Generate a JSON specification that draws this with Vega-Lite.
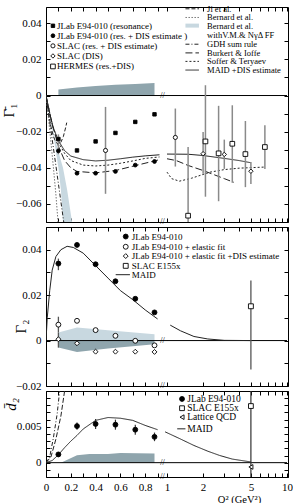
{
"$schema":"https://vega.github.io/schema/vega-lite/v6.json",
"padding":{"left":0,"top":4,"right":0,"bottom":0},
"spacing":5,
"bounds":"flush",
"resolve":{"scale":{"shape":"independent","fill":"independent","size":"independent","strokeDash":"independent","stroke":"independent"}},
"config":{"view":{"stroke":"black","strokeWidth":1},"font":"Liberation Serif",
"axis":{"labelFont":"Liberation Serif","titleFont":"Liberation Serif","labelFontSize":11,"labelColor":"black","tickColor":"black","domain":false,"grid":false,"titleFontWeight":"normal","titleColor":"black","labelFlush":false,"labelOverlap":false,"tickSize":-4,"minExtent":0},
"text":{"font":"Liberation Serif"}},
"datasets":{
"p1sys":[{"q2":0.1,"v":0,"v2":0.0033},{"q2":0.25,"v":0,"v2":0.0045},{"q2":0.4,"v":0,"v2":0.0053},{"q2":0.56,"v":0,"v2":0.0059},{"q2":0.72,"v":0,"v2":0.0064},{"q2":0.875,"v":0,"v2":0.007}],
"p1bern":[{"q2":0,"v":0,"v2":0},{"q2":0.03,"v":-0.011,"v2":-0.012},{"q2":0.06,"v":-0.020,"v2":-0.022},{"q2":0.08,"v":-0.026,"v2":-0.031},{"q2":0.1,"v":-0.031,"v2":-0.040},{"q2":0.12,"v":-0.036,"v2":-0.052},{"q2":0.137,"v":-0.040,"v2":-0.070},{"q2":0.17,"v":-0.052,"v2":-0.070},{"q2":0.21,"v":-0.070,"v2":-0.070}],
"p1curves":[
{"series":"ji","seg":"a","q2":0,"v":0},{"series":"ji","seg":"a","q2":0.02,"v":-0.0097},{"series":"ji","seg":"a","q2":0.04,"v":-0.0173},{"series":"ji","seg":"a","q2":0.06,"v":-0.0227},{"series":"ji","seg":"a","q2":0.08,"v":-0.0259},{"series":"ji","seg":"a","q2":0.1,"v":-0.027},{"series":"ji","seg":"a","q2":0.12,"v":-0.0259},{"series":"ji","seg":"a","q2":0.14,"v":-0.0227},{"series":"ji","seg":"a","q2":0.16,"v":-0.0173},{"series":"ji","seg":"a","q2":0.167,"v":-0.015},
{"series":"bernard","seg":"a","q2":0,"v":0},{"series":"bernard","seg":"a","q2":0.02,"v":-0.0125},{"series":"bernard","seg":"a","q2":0.04,"v":-0.026},{"series":"bernard","seg":"a","q2":0.06,"v":-0.040},{"series":"bernard","seg":"a","q2":0.08,"v":-0.055},{"series":"bernard","seg":"a","q2":0.097,"v":-0.07},
{"series":"gdh","seg":"a","q2":0,"v":0},{"series":"gdh","seg":"a","q2":0.07,"v":-0.034},{"series":"gdh","seg":"a","q2":0.143,"v":-0.07},
{"series":"maid","seg":"a","q2":0,"v":0},{"series":"maid","seg":"a","q2":0.03,"v":-0.010},{"series":"maid","seg":"a","q2":0.06,"v":-0.018},{"series":"maid","seg":"a","q2":0.1,"v":-0.025},{"series":"maid","seg":"a","q2":0.15,"v":-0.0305},{"series":"maid","seg":"a","q2":0.2,"v":-0.0335},{"series":"maid","seg":"a","q2":0.3,"v":-0.0355},{"series":"maid","seg":"a","q2":0.4,"v":-0.0362},{"series":"maid","seg":"a","q2":0.5,"v":-0.0358},{"series":"maid","seg":"a","q2":0.6,"v":-0.035},{"series":"maid","seg":"a","q2":0.7,"v":-0.0341},{"series":"maid","seg":"a","q2":0.8,"v":-0.0334},{"series":"maid","seg":"a","q2":0.92,"v":-0.0328},
{"series":"maid","seg":"b","q2":1.0,"v":-0.0324},{"series":"maid","seg":"b","q2":1.5,"v":-0.0325},{"series":"maid","seg":"b","q2":2,"v":-0.0332},{"series":"maid","seg":"b","q2":3,"v":-0.0348},{"series":"maid","seg":"b","q2":4,"v":-0.036},{"series":"maid","seg":"b","q2":5,"v":-0.0372},
{"series":"burkert","seg":"a","q2":0,"v":0},{"series":"burkert","seg":"a","q2":0.05,"v":-0.016},{"series":"burkert","seg":"a","q2":0.1,"v":-0.028},{"series":"burkert","seg":"a","q2":0.15,"v":-0.036},{"series":"burkert","seg":"a","q2":0.2,"v":-0.040},{"series":"burkert","seg":"a","q2":0.25,"v":-0.042},{"series":"burkert","seg":"a","q2":0.4,"v":-0.0428},{"series":"burkert","seg":"a","q2":0.56,"v":-0.0415},{"series":"burkert","seg":"a","q2":0.72,"v":-0.0388},{"series":"burkert","seg":"a","q2":0.92,"v":-0.0355},
{"series":"burkert","seg":"b","q2":1.0,"v":-0.035},{"series":"burkert","seg":"b","q2":1.2,"v":-0.036},{"series":"burkert","seg":"b","q2":1.5,"v":-0.0387},{"series":"burkert","seg":"b","q2":2,"v":-0.0415},{"series":"burkert","seg":"b","q2":3,"v":-0.046},{"series":"burkert","seg":"b","q2":3.6,"v":-0.048},
{"series":"soffer","seg":"a","q2":0,"v":0},{"series":"soffer","seg":"a","q2":0.05,"v":-0.016},{"series":"soffer","seg":"a","q2":0.1,"v":-0.026},{"series":"soffer","seg":"a","q2":0.15,"v":-0.032},{"series":"soffer","seg":"a","q2":0.2,"v":-0.036},{"series":"soffer","seg":"a","q2":0.3,"v":-0.0385},{"series":"soffer","seg":"a","q2":0.4,"v":-0.039},{"series":"soffer","seg":"a","q2":0.5,"v":-0.0385},{"series":"soffer","seg":"a","q2":0.6,"v":-0.0375},{"series":"soffer","seg":"a","q2":0.7,"v":-0.0362},{"series":"soffer","seg":"a","q2":0.8,"v":-0.0348},{"series":"soffer","seg":"a","q2":0.92,"v":-0.034},
{"series":"soffer","seg":"b","q2":1.0,"v":-0.0424},{"series":"soffer","seg":"b","q2":1.1,"v":-0.046},{"series":"soffer","seg":"b","q2":1.27,"v":-0.0474},{"series":"soffer","seg":"b","q2":1.6,"v":-0.0458},{"series":"soffer","seg":"b","q2":2.3,"v":-0.0424},{"series":"soffer","seg":"b","q2":3,"v":-0.041},{"series":"soffer","seg":"b","q2":4,"v":-0.0402},{"series":"soffer","seg":"b","q2":6.5,"v":-0.0396}],
"p1pts":[
{"series":"res","q2":0.1,"v":-0.0241},{"series":"res","q2":0.25,"v":-0.0304},{"series":"res","q2":0.4,"v":-0.0254},{"series":"res","q2":0.56,"v":-0.0207},{"series":"res","q2":0.72,"v":-0.0146},{"series":"res","q2":0.875,"v":-0.0104},
{"series":"resdis","q2":0.1,"v":-0.0306,"lo":-0.0325,"hi":-0.0215},{"series":"resdis","q2":0.25,"v":-0.043},{"series":"resdis","q2":0.4,"v":-0.043},{"series":"resdis","q2":0.56,"v":-0.042},{"series":"resdis","q2":0.72,"v":-0.0385},{"series":"resdis","q2":0.875,"v":-0.0365},
{"series":"slac","q2":0.48,"v":-0.0304,"lo":-0.0544,"hi":-0.0063},{"series":"slac","q2":1.18,"v":-0.0232,"lo":-0.0393,"hi":-0.0072},
{"series":"slacdis","q2":2.0,"v":-0.0322,"lo":-0.0433,"hi":-0.0202},{"series":"slacdis","q2":3.0,"v":-0.0326,"lo":-0.0406,"hi":-0.0244},{"series":"slacdis","q2":5.0,"v":-0.0419,"lo":-0.0489,"hi":-0.0368},
{"series":"hermes","q2":1.5,"v":-0.0665,"lo":-0.07,"hi":-0.0285},{"series":"hermes","q2":2.1,"v":-0.0254,"lo":-0.056,"hi":0.0057},{"series":"hermes","q2":2.7,"v":-0.032,"lo":-0.0585,"hi":-0.0057},{"series":"hermes","q2":3.5,"v":-0.0267,"lo":-0.0483,"hi":-0.0054},{"series":"hermes","q2":4.5,"v":-0.0324,"lo":-0.0507,"hi":-0.0141},{"series":"hermes","q2":6.56,"v":-0.0285,"lo":-0.0406,"hi":-0.0165}],
"p1legsym":[{"series":"res","q2":0.056,"v":0.0386},{"series":"resdis","q2":0.056,"v":0.0331},{"series":"slac","q2":0.056,"v":0.0275},{"series":"slacdis","q2":0.056,"v":0.0219},{"series":"hermes","q2":0.056,"v":0.0161}],
"p1leglines":[{"series":"ji","q2":1.43,"q2e":1.85,"v":0.0480},{"series":"bernard","q2":1.43,"q2e":1.85,"v":0.0432},{"series":"gdh","q2":1.43,"q2e":1.85,"v":0.0284},{"series":"burkert","q2":1.43,"q2e":1.85,"v":0.0236},{"series":"soffer","q2":1.43,"q2e":1.85,"v":0.0189},{"series":"maid","q2":1.43,"q2e":1.85,"v":0.0141}],
"p1legtxt":[{"q2":0.089,"v":0.0386,"label":"JLab E94-010 (resonance)"},{"q2":0.089,"v":0.0331,"label":"JLab E94-010 (res. + DIS estimate )"},{"q2":0.089,"v":0.0275,"label":"SLAC (res. + DIS estimate)"},{"q2":0.089,"v":0.0219,"label":"SLAC (DIS)"},{"q2":0.089,"v":0.0161,"label":"HERMES (res.+DIS)"}],
"p1legtxt2":[{"q2":2.17,"v":0.0480,"label":"Ji et al."},{"q2":2.17,"v":0.0432,"label":"Bernard et al."},{"q2":2.17,"v":0.0385,"label":"Bernard et al."},{"q2":2.17,"v":0.0334,"label":"withV.M.& NγΔ FF"},{"q2":2.17,"v":0.0284,"label":"GDH sum rule"},{"q2":2.17,"v":0.0236,"label":"Burkert & Ioffe"},{"q2":2.17,"v":0.0189,"label":"Soffer & Teryaev"},{"q2":2.17,"v":0.0141,"label":"MAID +DIS estimate"}],
"p2up":[{"q2":0.1,"v":0,"v2":0.0036},{"q2":0.25,"v":0,"v2":0.0058},{"q2":0.5,"v":0,"v2":0.0045},{"q2":0.875,"v":0,"v2":0.0028}],
"p2dn":[{"q2":0.1,"v":-0.0031,"v2":0},{"q2":0.25,"v":-0.005,"v2":0},{"q2":0.5,"v":-0.0035,"v2":0},{"q2":0.875,"v":-0.0016,"v2":0}],
"p2curves":[{"seg":"a","q2":0,"v":0},{"seg":"a","q2":0.01,"v":0.010},{"seg":"a","q2":0.03,"v":0.022},{"seg":"a","q2":0.05,"v":0.031},{"seg":"a","q2":0.08,"v":0.037},{"seg":"a","q2":0.12,"v":0.040},{"seg":"a","q2":0.17,"v":0.0415},{"seg":"a","q2":0.22,"v":0.041},{"seg":"a","q2":0.3,"v":0.0385},{"seg":"a","q2":0.4,"v":0.033},{"seg":"a","q2":0.5,"v":0.0275},{"seg":"a","q2":0.6,"v":0.022},{"seg":"a","q2":0.7,"v":0.018},{"seg":"a","q2":0.8,"v":0.0135},{"seg":"a","q2":0.9,"v":0.0095},
{"seg":"b","q2":1.07,"v":0.0068},{"seg":"b","q2":1.3,"v":0.0043},{"seg":"b","q2":1.68,"v":0.0018},{"seg":"b","q2":2.2,"v":0.0007},{"seg":"b","q2":3,"v":0.0001},{"seg":"b","q2":5,"v":0}],
"p2pts":[
{"series":"jlab","q2":0.1,"v":0.0339,"lo":0.031,"hi":0.0361},{"series":"jlab","q2":0.25,"v":0.0421},{"series":"jlab","q2":0.4,"v":0.0336},{"series":"jlab","q2":0.56,"v":0.0261},{"series":"jlab","q2":0.72,"v":0.0184},{"series":"jlab","q2":0.875,"v":0.0124},
{"series":"elas","q2":0.1,"v":0.007,"lo":0.0035,"hi":0.0105},{"series":"elas","q2":0.25,"v":0.0087},{"series":"elas","q2":0.4,"v":0.0046},{"series":"elas","q2":0.56,"v":0.0021},{"series":"elas","q2":0.72,"v":-0.0001},{"series":"elas","q2":0.875,"v":-0.0021},
{"series":"elasdis","q2":0.1,"v":0.0006,"lo":-0.0031,"hi":0.0035},{"series":"elasdis","q2":0.25,"v":-0.0012},{"series":"elasdis","q2":0.4,"v":-0.0049},{"series":"elasdis","q2":0.56,"v":-0.0049},{"series":"elasdis","q2":0.72,"v":-0.0049},{"series":"elasdis","q2":0.875,"v":-0.005},
{"series":"slac","q2":5,"v":0.0151,"lo":-0.0127,"hi":0.0265}],
"p2legsym":[{"series":"jlab","q2":0.643,"v":0.0458},{"series":"elas","q2":0.643,"v":0.0413},{"series":"elasdis","q2":0.643,"v":0.0372},{"series":"slac","q2":0.643,"v":0.0329}],
"p2legtxt":[{"q2":0.691,"v":0.0458,"label":"JLab E94-010"},{"q2":0.691,"v":0.0413,"label":"JLab E94-010 + elastic fit"},{"q2":0.691,"v":0.0372,"label":"JLab E94-010 + elastic fit +DIS estimate"},{"q2":0.691,"v":0.0329,"label":"SLAC E155x"},{"q2":0.691,"v":0.029,"label":"MAID"}],
"p3band":[{"q2":0.12,"v":0,"v2":0},{"q2":0.25,"v":0,"v2":0.00105},{"q2":0.35,"v":0,"v2":0.0012},{"q2":0.5,"v":0,"v2":0.0012},{"q2":0.6,"v":0,"v2":0.00135},{"q2":0.875,"v":0,"v2":0.00128}],
"p3curves":[{"series":"maid","seg":"a","q2":0,"v":0},{"series":"maid","seg":"a","q2":0.05,"v":0.0003},{"series":"maid","seg":"a","q2":0.1,"v":0.0011},{"series":"maid","seg":"a","q2":0.15,"v":0.0021},{"series":"maid","seg":"a","q2":0.2,"v":0.003},{"series":"maid","seg":"a","q2":0.25,"v":0.0038},{"series":"maid","seg":"a","q2":0.3,"v":0.0047},{"series":"maid","seg":"a","q2":0.4,"v":0.0059},{"series":"maid","seg":"a","q2":0.5,"v":0.0063},{"series":"maid","seg":"a","q2":0.6,"v":0.0062},{"series":"maid","seg":"a","q2":0.7,"v":0.0059},{"series":"maid","seg":"a","q2":0.8,"v":0.0052},{"series":"maid","seg":"a","q2":0.9,"v":0.0046},
{"series":"maid","seg":"b","q2":0.98,"v":0.0043},{"series":"maid","seg":"b","q2":1.3,"v":0.0033},{"series":"maid","seg":"b","q2":1.68,"v":0.0024},{"series":"maid","seg":"b","q2":2.2,"v":0.0016},{"series":"maid","seg":"b","q2":2.76,"v":0.001},{"series":"maid","seg":"b","q2":3.5,"v":0.0005},{"series":"maid","seg":"b","q2":5,"v":0.0001},
{"series":"dd","seg":"a","q2":0,"v":0},{"series":"dd","seg":"a","q2":0.03,"v":0.0008},{"series":"dd","seg":"a","q2":0.06,"v":0.0035},{"series":"dd","seg":"a","q2":0.09,"v":0.0068},{"series":"dd","seg":"a","q2":0.11,"v":0.01},
{"series":"da","seg":"a","q2":0,"v":0},{"series":"da","seg":"a","q2":0.04,"v":0.0008},{"series":"da","seg":"a","q2":0.08,"v":0.0033},{"series":"da","seg":"a","q2":0.12,"v":0.0065},{"series":"da","seg":"a","q2":0.15,"v":0.01}],
"p3pts":[{"series":"jlab","q2":0.1,"v":0.00115,"lo":0.0008,"hi":0.0015},{"series":"jlab","q2":0.25,"v":0.0051,"lo":0.0046,"hi":0.0056},{"series":"jlab","q2":0.4,"v":0.0054,"lo":0.0047,"hi":0.0061},{"series":"jlab","q2":0.56,"v":0.0053,"lo":0.0046,"hi":0.006},{"series":"jlab","q2":0.72,"v":0.0046,"lo":0.0039,"hi":0.0053},{"series":"jlab","q2":0.875,"v":0.0036,"lo":0.003,"hi":0.0042},
{"series":"slac","q2":5,"v":0.0079,"lo":-0.002,"hi":0.01},{"series":"lat","q2":5,"v":-0.0006}],
"p3legsym":[{"series":"jlab","q2":1.34,"v":0.00889},{"series":"slac","q2":1.34,"v":0.0076},{"series":"lat","q2":1.34,"v":0.00635}],
"p3legtxt":[{"q2":1.477,"v":0.00889,"label":"JLab E94-010"},{"q2":1.477,"v":0.0076,"label":"SLAC E155x"},{"q2":1.477,"v":0.00635,"label":"Lattice QCD"},{"q2":1.477,"v":0.00472,"label":"MAID"}]
},
"vconcat":[
{"width":242,"height":215,
"encoding":{"x":{"field":"q2","type":"quantitative","scale":{"type":"linear","domain":[0,0.9,1,1.25,1.5,1.75,2,2.5,3,3.5,4,4.5,5,6,7,8,9,10],"range":[0,111.6,121,132.6,142.1,150.2,157.1,168.8,178.3,186.3,193.2,199.4,204.9,214.4,222.4,229.4,235.5,241],"nice":false,"zero":false},"axis":null},
"y":{"field":"v","type":"quantitative","scale":{"domain":[-0.07,0.049],"nice":false,"zero":false},"axis":null}},
"resolve":{"axis":{"x":"independent","y":"independent"}},
"layer":[
{"data":{"values":[{"q2":0,"v":0}]},"mark":{"type":"point","opacity":0},
"encoding":{"x":{"field":"q2","type":"quantitative","scale":{"type":"linear","domain":[0,0.9,1,1.25,1.5,1.75,2,2.5,3,3.5,4,4.5,5,6,7,8,9,10],"range":[0,111.6,121,132.6,142.1,150.2,157.1,168.8,178.3,186.3,193.2,199.4,204.9,214.4,222.4,229.4,235.5,241],"nice":false,"zero":false},"axis":{"orient":"bottom","values":[0,0.1,0.2,0.3,0.4,0.5,0.6,0.7,0.8,0.9,1,2,3,4,5,6,7,8,9,10],"labels":false,"title":null}},
"y":{"field":"v","type":"quantitative","scale":{"domain":[-0.07,0.049],"nice":false,"zero":false},"axis":{"orient":"left","values":[-0.07,-0.06,-0.05,-0.04,-0.03,-0.02,-0.01,0,0.01,0.02,0.03,0.04],"labelExpr":"abs(round(datum.value*100)) % 2 == 0 ? format(datum.value, '~g') : ''","labelPadding":9,"title":"Γ̄₁","titleFontSize":15,"titleX":-30,"titleY":103}}}},
{"data":{"values":[{"q2":0,"v":0}]},"mark":{"type":"point","opacity":0},
"encoding":{"x":{"field":"q2","type":"quantitative","scale":{"type":"linear","domain":[0,0.9,1,1.25,1.5,1.75,2,2.5,3,3.5,4,4.5,5,6,7,8,9,10],"range":[0,111.6,121,132.6,142.1,150.2,157.1,168.8,178.3,186.3,193.2,199.4,204.9,214.4,222.4,229.4,235.5,241],"nice":false,"zero":false},"axis":{"orient":"top","values":[0,0.1,0.2,0.3,0.4,0.5,0.6,0.7,0.8,0.9,1,2,3,4,5,6,7,8,9,10],"labels":false,"title":null}},
"y":{"field":"v","type":"quantitative","scale":{"domain":[-0.07,0.049],"nice":false,"zero":false},"axis":{"orient":"right","values":[-0.07,-0.06,-0.05,-0.04,-0.03,-0.02,-0.01,0,0.01,0.02,0.03,0.04],"labels":false,"title":null}}}},
{"data":{"name":"p1sys"},"mark":{"type":"area","color":"#8fa5ad"},"encoding":{"y2":{"field":"v2"}}},
{"data":{"name":"p1bern"},"mark":{"type":"area","color":"#c8d8e0","clip":true},"encoding":{"y2":{"field":"v2"}}},
{"data":{"values":[{"q2":0,"q2e":10,"v":0}]},"mark":{"type":"rule","color":"black","strokeWidth":1},"encoding":{"x2":{"field":"q2e"}}},
{"data":{"name":"p1curves"},"mark":{"type":"line","strokeWidth":1,"clip":true},
"encoding":{"detail":{"field":"seg"},
"strokeDash":{"field":"series","type":"nominal","scale":{"domain":["ji","bernard","gdh","burkert","soffer","maid"],"range":[[4,2],[1.5,1.5],[4,2,1,2],[7,3],[2,2],[1,0]]},"legend":null},
"stroke":{"field":"series","type":"nominal","scale":{"domain":["ji","bernard","gdh","burkert","soffer","maid"],"range":["#222222","#777777","#222222","#222222","#222222","#222222"]},"legend":null}}},
{"data":{"name":"p1pts"},"transform":[{"filter":"isValid(datum.lo)"}],"mark":{"type":"rule","color":"#8a8a8a","strokeWidth":1.5},
"encoding":{"y":{"field":"lo","type":"quantitative","scale":{"domain":[-0.07,0.049],"nice":false,"zero":false},"axis":null},"y2":{"field":"hi"}}},
{"data":{"name":"p1pts"},"mark":{"type":"point","filled":true,"stroke":"black","strokeWidth":0.9,"opacity":1},
"encoding":{"shape":{"field":"series","type":"nominal","scale":{"domain":["res","resdis","slac","slacdis","hermes"],"range":["square","circle","circle","diamond","square"]},"legend":null},
"fill":{"field":"series","type":"nominal","scale":{"domain":["res","resdis","slac","slacdis","hermes"],"range":["black","black","white","white","white"]},"legend":null},
"size":{"field":"series","type":"ordinal","scale":{"domain":["res","resdis","slac","slacdis","hermes"],"range":[12,22,28,26,22]},"legend":null}}},
{"data":{"name":"p1legsym"},"mark":{"type":"point","filled":true,"stroke":"black","strokeWidth":0.9,"opacity":1},
"encoding":{"shape":{"field":"series","type":"nominal","legend":null},"fill":{"field":"series","type":"nominal","legend":null},"size":{"field":"series","type":"ordinal","legend":null}}},
{"data":{"name":"p1leglines"},"mark":{"type":"rule","strokeWidth":1},
"encoding":{"x2":{"field":"q2e"},"strokeDash":{"field":"series","type":"nominal","legend":null},"stroke":{"field":"series","type":"nominal","legend":null}}},
{"data":{"values":[{"q2":1.43,"q2e":1.85,"v":0.0387}]},"mark":{"type":"rule","strokeWidth":4,"color":"#c8d8e0"},"encoding":{"x2":{"field":"q2e"}}},
{"data":{"name":"p1legtxt"},"mark":{"type":"text","align":"left","baseline":"middle","fontSize":9,"color":"black"},"encoding":{"text":{"field":"label","type":"nominal"}}},
{"data":{"name":"p1legtxt2"},"mark":{"type":"text","align":"left","baseline":"middle","fontSize":8.5,"color":"black"},"encoding":{"text":{"field":"label","type":"nominal"}}},
{"data":{"values":[{"q2":0.953,"v":0},{"q2":0.953,"v":-0.07}]},"mark":{"type":"text","text":"//","fontSize":8,"baseline":"middle","align":"center","color":"black"}}
]},
{"width":242,"height":159,
"encoding":{"x":{"field":"q2","type":"quantitative","scale":{"type":"linear","domain":[0,0.9,1,1.25,1.5,1.75,2,2.5,3,3.5,4,4.5,5,6,7,8,9,10],"range":[0,111.6,121,132.6,142.1,150.2,157.1,168.8,178.3,186.3,193.2,199.4,204.9,214.4,222.4,229.4,235.5,241],"nice":false,"zero":false},"axis":null},
"y":{"field":"v","type":"quantitative","scale":{"domain":[-0.02,0.05],"nice":false,"zero":false},"axis":null}},
"resolve":{"axis":{"x":"independent","y":"independent"}},
"layer":[
{"data":{"values":[{"q2":0,"v":0}]},"mark":{"type":"point","opacity":0},
"encoding":{"x":{"field":"q2","type":"quantitative","scale":{"type":"linear","domain":[0,0.9,1,1.25,1.5,1.75,2,2.5,3,3.5,4,4.5,5,6,7,8,9,10],"range":[0,111.6,121,132.6,142.1,150.2,157.1,168.8,178.3,186.3,193.2,199.4,204.9,214.4,222.4,229.4,235.5,241],"nice":false,"zero":false},"axis":{"orient":"bottom","values":[0,0.1,0.2,0.3,0.4,0.5,0.6,0.7,0.8,0.9,1,2,3,4,5,6,7,8,9,10],"labels":false,"title":null}},
"y":{"field":"v","type":"quantitative","scale":{"domain":[-0.02,0.05],"nice":false,"zero":false},"axis":{"orient":"left","values":[-0.02,-0.01,0,0.01,0.02,0.03,0.04,0.05],"labelExpr":"abs(round(datum.value*100)) % 2 == 0 ? format(datum.value, '~g') : ''","labelPadding":9,"title":"Γ₂","titleFontSize":15,"titleX":-18,"titleY":99}}}},
{"data":{"values":[{"q2":0,"v":0}]},"mark":{"type":"point","opacity":0},
"encoding":{"x":{"field":"q2","type":"quantitative","scale":{"type":"linear","domain":[0,0.9,1,1.25,1.5,1.75,2,2.5,3,3.5,4,4.5,5,6,7,8,9,10],"range":[0,111.6,121,132.6,142.1,150.2,157.1,168.8,178.3,186.3,193.2,199.4,204.9,214.4,222.4,229.4,235.5,241],"nice":false,"zero":false},"axis":{"orient":"top","values":[0,0.1,0.2,0.3,0.4,0.5,0.6,0.7,0.8,0.9,1,2,3,4,5,6,7,8,9,10],"labels":false,"title":null}},
"y":{"field":"v","type":"quantitative","scale":{"domain":[-0.02,0.05],"nice":false,"zero":false},"axis":{"orient":"right","values":[-0.02,-0.01,0,0.01,0.02,0.03,0.04,0.05],"labels":false,"title":null}}}},
{"data":{"name":"p2up"},"mark":{"type":"area","color":"#c8d8e0"},"encoding":{"y2":{"field":"v2"}}},
{"data":{"name":"p2dn"},"mark":{"type":"area","color":"#8fa5ad"},"encoding":{"y2":{"field":"v2"}}},
{"data":{"values":[{"q2":0,"q2e":10,"v":0}]},"mark":{"type":"rule","color":"black","strokeWidth":1},"encoding":{"x2":{"field":"q2e"}}},
{"data":{"name":"p2curves"},"mark":{"type":"line","strokeWidth":1,"color":"#222222","clip":true},"encoding":{"detail":{"field":"seg"}}},
{"data":{"name":"p2pts"},"transform":[{"filter":"isValid(datum.lo)"}],"mark":{"type":"rule","color":"#555555","strokeWidth":1.3},
"encoding":{"y":{"field":"lo","type":"quantitative","scale":{"domain":[-0.02,0.05],"nice":false,"zero":false},"axis":null},"y2":{"field":"hi"}}},
{"data":{"name":"p2pts"},"mark":{"type":"point","filled":true,"stroke":"black","strokeWidth":0.9,"opacity":1},
"encoding":{"shape":{"field":"series","type":"nominal","scale":{"domain":["jlab","elas","elasdis","slac"],"range":["circle","circle","diamond","square"]},"legend":null},
"fill":{"field":"series","type":"nominal","scale":{"domain":["jlab","elas","elasdis","slac"],"range":["black","white","white","white"]},"legend":null},
"size":{"field":"series","type":"ordinal","scale":{"domain":["jlab","elas","elasdis","slac"],"range":[24,24,26,22]},"legend":null}}},
{"data":{"name":"p2legsym"},"mark":{"type":"point","filled":true,"stroke":"black","strokeWidth":0.9,"opacity":1},
"encoding":{"shape":{"field":"series","type":"nominal","legend":null},"fill":{"field":"series","type":"nominal","legend":null},"size":{"field":"series","type":"ordinal","legend":null}}},
{"data":{"values":[{"q2":0.562,"q2e":0.677,"v":0.029}]},"mark":{"type":"rule","strokeWidth":1,"color":"#222222"},"encoding":{"x2":{"field":"q2e"}}},
{"data":{"name":"p2legtxt"},"mark":{"type":"text","align":"left","baseline":"middle","fontSize":9,"color":"black"},"encoding":{"text":{"field":"label","type":"nominal"}}},
{"data":{"values":[{"q2":0.953,"v":0},{"q2":0.953,"v":-0.02}]},"mark":{"type":"text","text":"//","fontSize":8,"baseline":"middle","align":"center","color":"black"}}
]},
{"width":242,"height":86,
"encoding":{"x":{"field":"q2","type":"quantitative","scale":{"type":"linear","domain":[0,0.9,1,1.25,1.5,1.75,2,2.5,3,3.5,4,4.5,5,6,7,8,9,10],"range":[0,111.6,121,132.6,142.1,150.2,157.1,168.8,178.3,186.3,193.2,199.4,204.9,214.4,222.4,229.4,235.5,241],"nice":false,"zero":false},"axis":null},
"y":{"field":"v","type":"quantitative","scale":{"domain":[-0.002,0.01],"nice":false,"zero":false},"axis":null}},
"resolve":{"axis":{"x":"independent","y":"independent"}},
"layer":[
{"data":{"values":[{"q2":0,"v":0}]},"mark":{"type":"point","opacity":0},
"encoding":{"x":{"field":"q2","type":"quantitative","scale":{"type":"linear","domain":[0,0.9,1,1.25,1.5,1.75,2,2.5,3,3.5,4,4.5,5,6,7,8,9,10],"range":[0,111.6,121,132.6,142.1,150.2,157.1,168.8,178.3,186.3,193.2,199.4,204.9,214.4,222.4,229.4,235.5,241],"nice":false,"zero":false},"axis":{"orient":"bottom","values":[0,0.1,0.2,0.3,0.4,0.5,0.6,0.7,0.8,0.9,1,2,3,4,5,6,7,8,9,10],"labelExpr":"indexof([0,0.2,0.4,0.6,0.8,1,2,5,10], datum.value) >= 0 ? format(datum.value, '~g') : ''","labelPadding":8,"title":"Q² (GeV²)","titleFontSize":10.5,"titleX":193,"titleY":17}},
"y":{"field":"v","type":"quantitative","scale":{"domain":[-0.002,0.01],"nice":false,"zero":false},"axis":{"orient":"left","values":[-0.002,-0.001,0,0.001,0.002,0.003,0.004,0.005,0.006,0.007,0.008,0.009,0.01],"labelExpr":"datum.value == 0 || abs(datum.value - 0.005) < 1e-9 ? format(datum.value, '~g') : ''","labelPadding":9,"title":"d̄₂","titleFontSize":15,"titleFontStyle":"italic","titleX":-28,"titleY":13}}}},
{"data":{"values":[{"q2":0,"v":0}]},"mark":{"type":"point","opacity":0},
"encoding":{"x":{"field":"q2","type":"quantitative","scale":{"type":"linear","domain":[0,0.9,1,1.25,1.5,1.75,2,2.5,3,3.5,4,4.5,5,6,7,8,9,10],"range":[0,111.6,121,132.6,142.1,150.2,157.1,168.8,178.3,186.3,193.2,199.4,204.9,214.4,222.4,229.4,235.5,241],"nice":false,"zero":false},"axis":{"orient":"top","values":[0,0.1,0.2,0.3,0.4,0.5,0.6,0.7,0.8,0.9,1,2,3,4,5,6,7,8,9,10],"labels":false,"title":null}},
"y":{"field":"v","type":"quantitative","scale":{"domain":[-0.002,0.01],"nice":false,"zero":false},"axis":{"orient":"right","values":[-0.002,-0.001,0,0.001,0.002,0.003,0.004,0.005,0.006,0.007,0.008,0.009,0.01],"labels":false,"title":null}}}},
{"data":{"name":"p3band"},"mark":{"type":"area","color":"#8fa5ad"},"encoding":{"y2":{"field":"v2"}}},
{"data":{"values":[{"q2":0,"q2e":10,"v":0}]},"mark":{"type":"rule","color":"black","strokeWidth":1},"encoding":{"x2":{"field":"q2e"}}},
{"data":{"name":"p3curves"},"mark":{"type":"line","strokeWidth":1,"clip":true},
"encoding":{"detail":{"field":"seg"},"strokeDash":{"field":"series","type":"nominal","scale":{"domain":["maid","dd","da"],"range":[[1,0],[4,2,1,2],[5,2]]},"legend":null},"stroke":{"value":"#222222"}}},
{"data":{"name":"p3pts"},"transform":[{"filter":"isValid(datum.lo)"}],"mark":{"type":"rule","color":"#333333","strokeWidth":1.2},
"encoding":{"y":{"field":"lo","type":"quantitative","scale":{"domain":[-0.002,0.01],"nice":false,"zero":false},"axis":null},"y2":{"field":"hi"}}},
{"data":{"name":"p3pts"},"mark":{"type":"point","filled":true,"stroke":"black","strokeWidth":0.9,"opacity":1},
"encoding":{"shape":{"field":"series","type":"nominal","scale":{"domain":["jlab","slac","lat"],"range":["circle","square","triangle-left"]},"legend":null},
"fill":{"field":"series","type":"nominal","scale":{"domain":["jlab","slac","lat"],"range":["black","white","white"]},"legend":null},
"size":{"field":"series","type":"ordinal","scale":{"domain":["jlab","slac","lat"],"range":[24,22,24]},"legend":null}}},
{"data":{"name":"p3legsym"},"mark":{"type":"point","filled":true,"stroke":"black","strokeWidth":0.9,"opacity":1},
"encoding":{"shape":{"field":"series","type":"nominal","legend":null},"fill":{"field":"series","type":"nominal","legend":null},"size":{"field":"series","type":"ordinal","legend":null}}},
{"data":{"values":[{"q2":1.22,"q2e":1.43,"v":0.00472}]},"mark":{"type":"rule","strokeWidth":1,"color":"#222222"},"encoding":{"x2":{"field":"q2e"}}},
{"data":{"name":"p3legtxt"},"mark":{"type":"text","align":"left","baseline":"middle","fontSize":9.5,"color":"black"},"encoding":{"text":{"field":"label","type":"nominal"}}},
{"data":{"values":[{"q2":0.953,"v":0},{"q2":0.953,"v":-0.002}]},"mark":{"type":"text","text":"//","fontSize":8,"baseline":"middle","align":"center","color":"black"}}
]}
]}
